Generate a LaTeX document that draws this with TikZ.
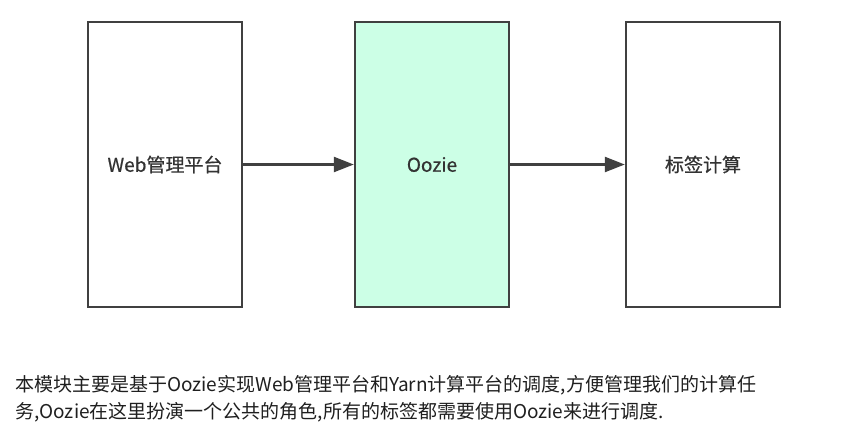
\documentclass[tikz,border=0pt]{standalone}
\usepackage{fontspec}
\setmainfont{Noto Sans CJK SC}
\newfontfamily\labelfont{Noto Sans CJK SC}[FakeBold=0.6]
\usetikzlibrary{arrows.meta}
\definecolor{boxline}{HTML}{404040}
\definecolor{oozie}{HTML}{CCFFE6}
\definecolor{txt}{HTML}{333333}
\begin{document}
\begin{tikzpicture}[x=1pt,y=-1pt,
  box/.style={draw=boxline,line width=2.4pt,minimum width=154pt,minimum height=285pt,inner sep=0pt,text=txt,font=\labelfont\fontsize{19}{23}\selectfont},
  conn/.style={draw=boxline,line width=2.4pt,-{Triangle[length=20pt,width=15pt]}},
  para/.style={anchor=base west,inner sep=0pt,text=black!88,font=\fontsize{19}{23}\selectfont}]
\useasboundingbox (0,0) rectangle (844,440);
\node[box] (web) at (165,164.5) {Web管理平台};
\node[box,fill=oozie] (oz) at (432,164.5) {Oozie};
\node[box] (tag) at (703,164.5) {标签计算};
\draw[conn] (web.east) -- (oz.west);
\draw[conn] (oz.east) -- (tag.west);
\node[para] (l1) at (15,391) {本模块主要是基于Oozie实现Web管理平台和Yarn计算平台的调度,方便管理我们的计算任};
\node[para] (l2) at (15,418) {务,Oozie在这里扮演一个公共的角色,所有的标签都需要使用Oozie来进行调度.};
\end{tikzpicture}
\end{document}
